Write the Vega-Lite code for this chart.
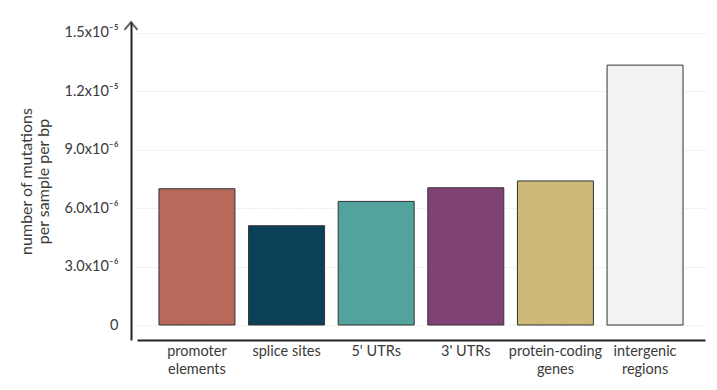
{
  "$schema": "https://vega.github.io/schema/vega-lite/v6.json",
  "autosize": {"type": "none"},
  "width": 568,
  "height": 318,
  "padding": {"left": 137, "top": 22, "right": 12, "bottom": 50},
  "background": "white",
  "config": {
    "view": {"stroke": null},
    "font": "Lato",
    "axis": {"labelFont": "Lato", "titleFont": "Lato"}
  },
  "data": {
    "values": [
      {"region": "promoter elements", "rate": 7.0e-6},
      {"region": "splice sites", "rate": 5.1e-6},
      {"region": "5' UTRs", "rate": 6.35e-6},
      {"region": "3' UTRs", "rate": 7.05e-6},
      {"region": "protein-coding genes", "rate": 7.4e-6},
      {"region": "intergenic regions", "rate": 1.335e-5}
    ]
  },
  "layer": [
    {
      "mark": {"type": "bar", "stroke": "#333333", "strokeWidth": 1},
      "encoding": {
        "x": {
          "field": "region",
          "type": "nominal",
          "sort": null,
          "scale": {"paddingInner": 0.152, "paddingOuter": 0.245},
          "axis": {
            "title": null,
            "labelAngle": 0,
            "ticks": false,
            "domainColor": "#222222",
            "domainWidth": 2,
            "labelFontSize": 14.5,
            "labelFontWeight": "normal",
            "labelColor": "#3a3a3a",
            "labelPadding": 4,
            "labelLineHeight": 18,
            "labelExpr": "datum.label == 'promoter elements' ? ['promoter', 'elements'] : datum.label == 'protein-coding genes' ? ['protein-coding', 'genes'] : datum.label == 'intergenic regions' ? ['intergenic', 'regions'] : datum.label"
          }
        },
        "y": {
          "field": "rate",
          "type": "quantitative",
          "scale": {"domain": [-7.7e-7, 1.5565e-5], "nice": false, "zero": false},
          "axis": {
            "title": ["number of mutations", "per sample per bp"],
            "titleFontSize": 16,
            "titleFontWeight": "normal",
            "titleColor": "#3a3a3a",
            "titlePadding": 13,
            "titleLineHeight": 17,
            "values": [0, 3e-6, 6e-6, 9e-6, 1.2e-5, 1.5e-5],
            "labelExpr": "datum.value == 0 ? '0' : datum.value < 1e-5 ? format(datum.value * 1e6, '.1f') + 'x10⁻⁶' : format(datum.value * 1e5, '.1f') + 'x10⁻⁵'",
            "labelFontSize": 14.5,
            "labelFontWeight": "normal",
            "labelColor": "#3a3a3a",
            "labelPadding": 13,
            "ticks": false,
            "offset": 6,
            "domainColor": "#222222",
            "domainWidth": 2,
            "grid": true,
            "gridColor": "#dadada",
            "gridDash": [1, 2],
            "gridWidth": 1
          }
        },
        "color": {
          "field": "region",
          "type": "nominal",
          "sort": null,
          "legend": null,
          "scale": {
            "domain": ["promoter elements", "splice sites", "5' UTRs", "3' UTRs", "protein-coding genes", "intergenic regions"],
            "range": ["#B8695A", "#0B4059", "#52A29E", "#7E4273", "#CDBA78", "#F1F2F1"]
          }
        }
      }
    },
    {
      "data": {"values": [{"top": 1.5565e-5}]},
      "mark": {"type": "point", "shape": "M-1,1.2L0,0L1,1.2", "filled": false, "stroke": "#222222", "strokeWidth": 2, "size": 169},
      "encoding": {
        "x": {"value": -6},
        "y": {"field": "top", "type": "quantitative"}
      }
    }
  ]
}
